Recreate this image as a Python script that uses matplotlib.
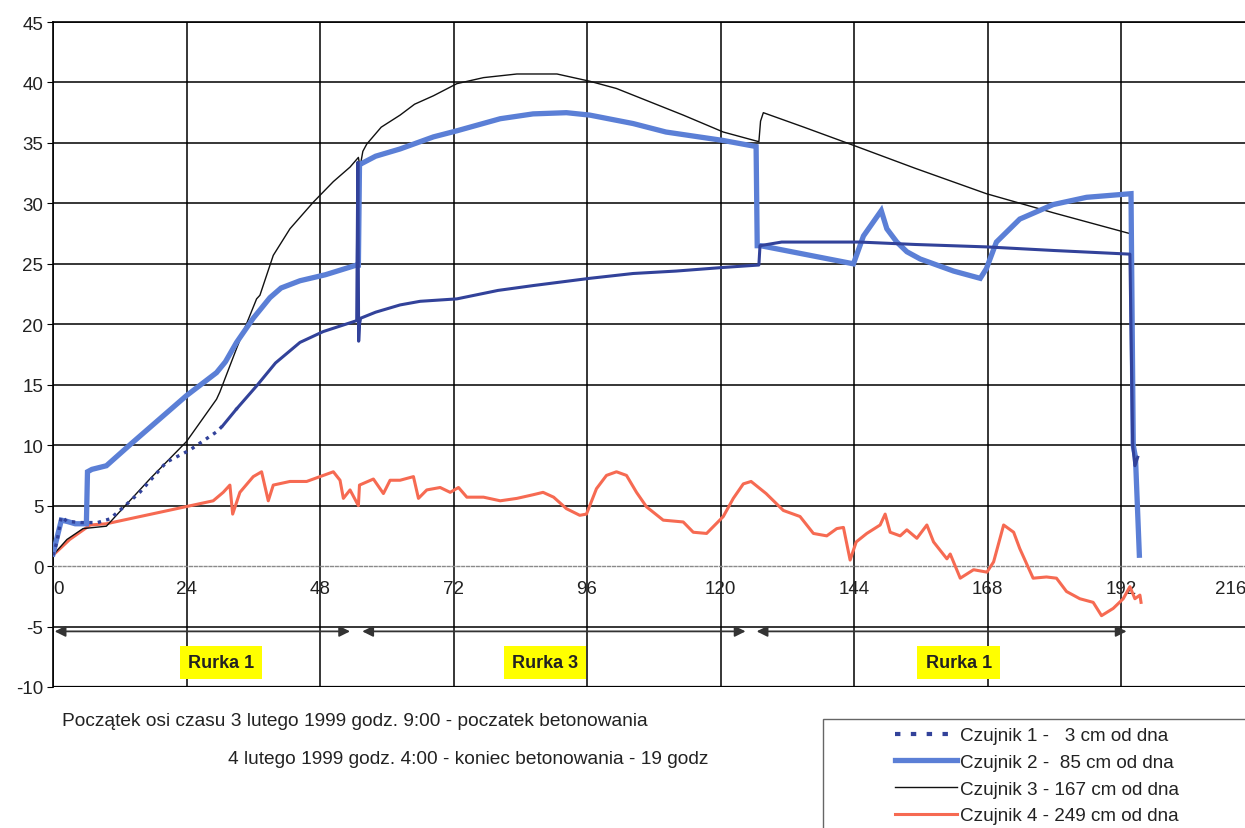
import numpy as np
import matplotlib
matplotlib.use("Agg")
import matplotlib.pyplot as plt
from matplotlib.patches import Rectangle
from matplotlib.lines import Line2D
from matplotlib.transforms import ScaledTranslation

plt.rcParams['font.family'] = ['Liberation Sans', 'DejaVu Sans']
plt.rcParams['axes.unicode_minus'] = False

# ---------------- data (hours, temperature) ----------------
x_ticks = [0, 24, 48, 72, 96, 120, 144, 168, 192, 216]
y_ticks = [-10, -5, 0, 5, 10, 15, 20, 25, 30, 35, 40, 45]

series_labels = ['Czujnik 1 -   3 cm od dna', 'Czujnik 2 -  85 cm od dna',
                 'Czujnik 3 - 167 cm od dna', 'Czujnik 4 - 249 cm od dna']

c1_points = [(0, 0.9), (0.7, 2.0), (1.5, 4.1), (2.5, 3.7), (5, 3.6), (8, 3.6), (10.2, 3.9),
             (12, 4.6), (15.6, 6.1), (20.4, 8.6), (24.6, 9.6), (29.4, 11.1), (30.5, 11.6),
             (33, 13.0), (36.6, 14.9), (40, 16.8), (44.4, 18.5), (48.6, 19.4), (54.6, 20.3),
             (54.8, 33.4), (54.95, 18.6), (55.1, 20.0), (55.3, 20.5), (58, 21.0), (62.4, 21.6),
             (66, 21.9), (72.6, 22.1), (80, 22.8), (86.3, 23.2), (96.5, 23.8), (104.3, 24.2),
             (112, 24.4), (120.5, 24.7), (126.9, 24.9), (127.1, 26.5), (131, 26.8), (145, 26.8),
             (155, 26.6), (167.8, 26.4), (180, 26.1), (193.6, 25.8), (194.1, 10.0),
             (194.5, 8.3), (195, 9.0)]

c2_points = [(0, 1.0), (0.8, 2.5), (1.5, 3.8), (2.5, 3.7), (4, 3.5), (6.0, 3.5), (6.2, 7.8),
             (7, 8.0), (9.6, 8.3), (14, 10.1), (19, 12.1), (24, 14.1), (29.4, 16.0), (31, 16.9),
             (33, 18.5), (36, 20.5), (39, 22.2), (41, 23.0), (44.4, 23.6), (49, 24.1),
             (54.6, 24.9), (54.9, 24.9), (55.1, 33.2), (55.5, 33.3), (58, 33.9), (62.4, 34.5),
             (68.4, 35.5), (72.6, 36.0), (80.4, 37.0), (86.3, 37.4), (92.3, 37.5), (96.5, 37.3),
             (104.3, 36.6), (110.2, 35.9), (120.5, 35.2), (126.4, 34.7), (126.6, 26.5),
             (127.2, 26.5), (135, 25.8), (143.9, 25.0), (145.7, 27.3), (148.9, 29.4),
             (149.9, 27.9), (151.7, 26.8), (153.5, 26.0), (155.9, 25.4), (161.9, 24.4),
             (166.7, 23.8), (167.8, 24.6), (169.6, 26.8), (173.8, 28.7), (179.8, 29.9),
             (185.8, 30.5), (193.8, 30.8), (194.2, 10.0), (194.6, 9.0), (195.3, 0.9)]

c3_points = [(0, 0.9), (2.5, 2.2), (5.4, 3.1), (9.6, 3.3), (12, 4.5), (17.4, 7.2), (24, 10.3),
             (29.4, 13.8), (30, 14.4), (33, 18.0), (36.6, 22.1), (37.2, 22.4), (39.6, 25.7),
             (42.6, 27.9), (46.8, 30.1), (50.4, 31.8), (53.4, 33.0), (54.9, 33.8), (55.2, 33.0),
             (55.7, 34.3), (56.4, 34.9), (59, 36.3), (62.4, 37.3), (65, 38.2), (68.4, 38.9),
             (72.6, 39.9), (77.4, 40.4), (83.4, 40.7), (90.6, 40.7), (96.5, 40.1), (101.3, 39.5),
             (107.3, 38.4), (113.3, 37.3), (120.5, 35.9), (126.9, 35.1), (127.2, 36.8),
             (127.7, 37.5), (135, 36.3), (143.9, 34.8), (155, 32.9), (167.8, 30.8), (180, 29.2),
             (193.6, 27.5), (194.0, 12.0), (194.4, 8.5)]

c4_points = [(0, 0.9), (3, 2.2), (6.7, 3.4), (9.6, 3.5), (28.8, 5.4), (30.6, 6.1), (31.8, 6.7),
             (32.3, 4.3), (33.6, 6.1), (36.0, 7.4), (37.5, 7.8), (38.7, 5.4), (39.6, 6.7),
             (42.6, 7.0), (45.6, 7.0), (48.6, 7.5), (50.4, 7.8), (51.6, 7.1), (52.2, 5.6),
             (53.4, 6.3), (54.9, 5.0), (55.1, 6.7), (57.6, 7.2), (59.4, 6.0), (60.6, 7.1),
             (62.4, 7.1), (64.8, 7.4), (65.7, 5.6), (67.2, 6.3), (69.6, 6.5), (71.4, 6.1),
             (72.9, 6.5), (74.4, 5.7), (77.4, 5.7), (80.4, 5.4), (83.4, 5.6), (86.3, 5.9),
             (88.1, 6.1), (90.0, 5.7), (92.3, 4.75), (94.7, 4.2), (95.9, 4.3), (97.7, 6.4),
             (99.5, 7.5), (101.3, 7.8), (103.1, 7.5), (104.9, 6.1), (106.7, 4.9), (109.7, 3.8),
             (113.3, 3.65), (115.1, 2.8), (117.5, 2.7), (119.0, 3.4), (120.5, 4.1), (122.3, 5.6),
             (124.1, 6.8), (125.5, 7.0), (128.2, 6.0), (131.3, 4.6), (134.3, 4.1), (136.7, 2.7),
             (139.1, 2.5), (140.9, 3.1), (142.1, 3.2), (143.3, 0.5), (144.4, 2.0), (146.3, 2.7),
             (148.7, 3.4), (149.6, 4.3), (150.5, 2.8), (152.3, 2.5), (153.5, 3.0), (155.3, 2.3),
             (157.1, 3.4), (158.3, 2.0), (160.7, 0.6), (161.3, 1.0), (163.1, -1.0), (165.5, -0.3),
             (167.9, -0.5), (169.1, 0.35), (170.9, 3.4), (172.7, 2.8), (173.8, 1.45), (176.2, -1.0),
             (178.6, -0.9), (180.4, -1.0), (182.2, -2.1), (184.6, -2.7), (187.0, -3.0),
             (188.5, -4.1), (190.6, -3.5), (192.4, -2.7), (193.6, -1.7), (194.5, -2.7),
             (195.4, -2.4), (195.6, -3.0)]

rurka_start = [0.3, 55.6, 126.5]
rurka_end = [53.4, 124.5, 193.0]
rurka_level = -5.4
rurka_text = ['Rurka 1', 'Rurka 3', 'Rurka 1']
rurka_text_x = [30.2, 88.5, 162.8]
rurka_text_y = -8.0

note_line1 = 'Początek osi czasu 3 lutego 1999 godz. 9:00 - poczatek betonowania'
note_line2 = '4 lutego 1999 godz. 4:00 - koniec betonowania - 19 godz'

# ---------------- figure ----------------
W, H = 1245, 829
fig = plt.figure(figsize=(W / 100, H / 100), dpi=100)
ax = fig.add_axes([53 / W, 1 - 688 / H, (1254.5 - 53) / W, 665 / H])
ax.set_xlim(0, 216)
ax.set_ylim(-10, 45)
ax.set_xticks(x_ticks)
ax.set_yticks(y_ticks)
ax.grid(True, color='black', lw=1.1)
ax.set_axisbelow(True)

# zero line: grey dotted (axis line), remove black gridline there
for val, gl in zip(y_ticks, ax.get_ygridlines()):
    if val == 0:
        gl.set_visible(False)
ax.spines['bottom'].set_position(('data', 0))
ax.spines['bottom'].set_color('#8a8a8a')
ax.spines['bottom'].set_linestyle((0, (2, 1.5)))
ax.spines['bottom'].set_linewidth(1.0)
ax.spines['right'].set_visible(False)
ax.spines['top'].set_color('black')
ax.spines['left'].set_color('black')
ax.spines['top'].set_linewidth(1.2)
ax.spines['left'].set_linewidth(1.2)
ax.axhline(y_ticks[0], color='black', lw=1.6, zorder=1)

ax.tick_params(axis='x', length=0, pad=10, labelsize=13.5, labelcolor='#222222')
ax.tick_params(axis='y', length=4, direction='out', pad=3, labelsize=13.5, labelcolor='#222222')
xl = ax.get_xticklabels()
xl[0].set_ha('left')
xl[-1].set_transform(xl[-1].get_transform() + ScaledTranslation(-24 / 100, 0, fig.dpi_scale_trans))

col1, col2, col3, col4 = '#32429a', '#5b7fd6', '#111111', '#f66a52'

p1 = np.array(c1_points).T
p2 = np.array(c2_points).T
p3 = np.array(c3_points).T
p4 = np.array(c4_points).T

ax.plot(p4[0], p4[1], color=col4, lw=2.2, zorder=3)
ax.plot(p3[0], p3[1], color=col3, lw=1.0, zorder=4)
ax.plot(p2[0], p2[1], color=col2, lw=3.8, zorder=5, solid_joinstyle='miter')
m = p1[0] <= 30.5
ax.plot(p1[0][m], p1[1][m], color=col1, lw=2.4, ls=(0, (1, 1.6)), zorder=6)
ax.plot(p1[0][~m], p1[1][~m], color=col1, lw=2.2, zorder=6)
ax.plot(p1[0][m][-1:].tolist() + p1[0][~m][:1].tolist(),
        p1[1][m][-1:].tolist() + p1[1][~m][:1].tolist(), color=col1, lw=2.2, zorder=6)

# period arrows and labels
for s, e in zip(rurka_start, rurka_end):
    ax.annotate('', xy=(e, rurka_level), xytext=(s, rurka_level),
                arrowprops=dict(arrowstyle='<|-|>', color='#333333', lw=1.3,
                                mutation_scale=16, shrinkA=0, shrinkB=0), zorder=7)
for tx, t in zip(rurka_text_x, rurka_text):
    ax.text(tx, rurka_text_y, t, ha='center', va='center', fontsize=13, fontweight='bold',
            color='#222222', zorder=8,
            bbox=dict(boxstyle='square,pad=0.45', facecolor='#ffff00', edgecolor='none'))

# notes
fig.text(62 / W, 1 - 722 / H, note_line1, ha='left', va='center', fontsize=13.8, color='#222222')
fig.text(228 / W, 1 - 760 / H, note_line2, ha='left', va='center', fontsize=13.8, color='#222222')

# legend box
fig.patches.append(Rectangle((823 / W, -0.05), 0.5, 0.05 + (829 - 720) / H,
                             transform=fig.transFigure, fill=False, edgecolor='#666666', lw=1.0))
handles = [Line2D([], [], color=col1, lw=3, ls=(0, (1.3, 2.5))),
           Line2D([], [], color=col2, lw=3.8),
           Line2D([], [], color=col3, lw=1.0),
           Line2D([], [], color=col4, lw=2.2)]
fig.legend(handles, series_labels, loc='upper left', bbox_to_anchor=(895 / W, 1 - 728 / H),
           frameon=False, handlelength=3.3, handletextpad=0.15, labelspacing=0.5,
           borderpad=0, borderaxespad=0, fontsize=13.6, labelcolor='#222222')

fig.savefig('out.png', dpi=100)
